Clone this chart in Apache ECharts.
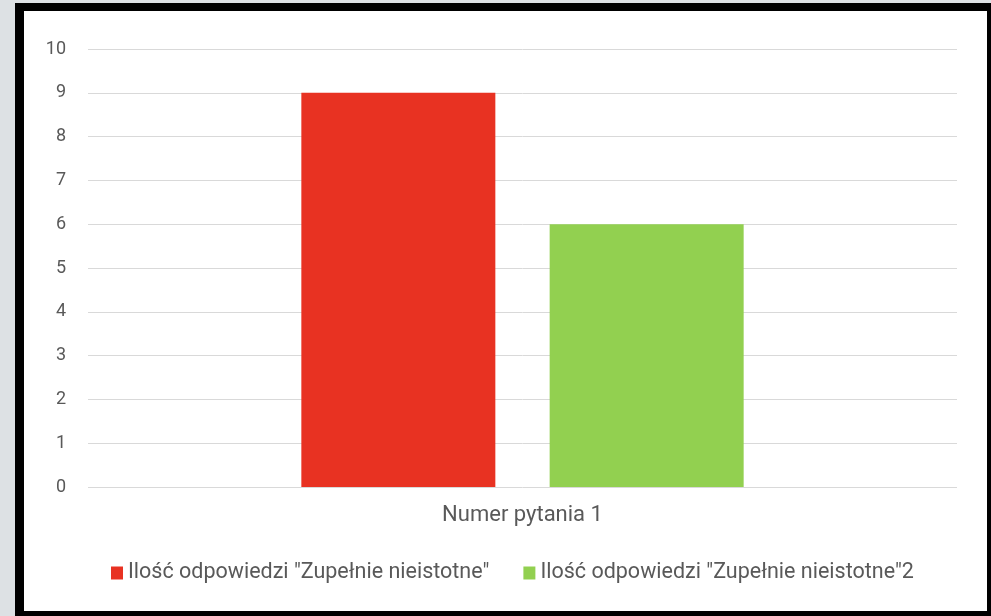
<!DOCTYPE html>
<html><head><meta charset="utf-8">
<script src="https://cdn.jsdelivr.net/npm/echarts@6/dist/echarts.min.js"></script>
<style>
html,body{margin:0;padding:0;width:991px;height:616px;background:#dde1e4;overflow:hidden;}
#frame{position:absolute;left:15px;top:3px;width:963px;height:600px;border-style:solid;border-color:#000;border-width:8px 4px 5px 9px;background:#fff;}
#chart{position:absolute;left:0;top:0;width:991px;height:616px;}
</style></head>
<body>
<div id="frame"></div>
<div id="chart"></div>
<script>
const categories = ['Numer pytania 1'];
const seriesNames = ['Ilość odpowiedzi "Zupełnie nieistotne"', 'Ilość odpowiedzi "Zupełnie nieistotne"2'];
const series1Values = [9];
const series2Values = [6];
const yTicks = [0, 10, 1]; // min, max, interval

const chart = echarts.init(document.getElementById('chart'), null, {renderer: 'canvas'});
const font = 'Roboto, "Noto Sans", sans-serif';
chart.setOption({
  backgroundColor: 'transparent',
  animation: false,
  grid: {left: 88, right: 34, top: 49, bottom: 129, containLabel: false},
  legend: {
    left: 106, top: 557, itemWidth: 12, itemHeight: 13, itemGap: 34,
    icon: 'rect',
    textStyle: {color: '#595959', fontSize: 21.5, fontFamily: font},
    data: seriesNames
  },
  xAxis: {
    type: 'category', data: categories,
    axisLine: {show: false}, axisTick: {show: false},
    axisLabel: {color: '#595959', fontSize: 22, fontFamily: font, margin: 17}
  },
  yAxis: {
    type: 'value', min: yTicks[0], max: yTicks[1], interval: yTicks[2],
    axisLine: {show: false}, axisTick: {show: false},
    axisLabel: {color: '#595959', fontSize: 18, fontFamily: font, margin: 22},
    splitLine: {lineStyle: {color: '#d9d9d9', width: 1}}
  },
  series: [
    {name: seriesNames[0], type: 'bar', data: series1Values, barWidth: 194, barGap: '28%', itemStyle: {color: '#e83222'}},
    {name: seriesNames[1], type: 'bar', data: series2Values, barWidth: 194, itemStyle: {color: '#92d050'}}
  ]
});
</script>
</body></html>
